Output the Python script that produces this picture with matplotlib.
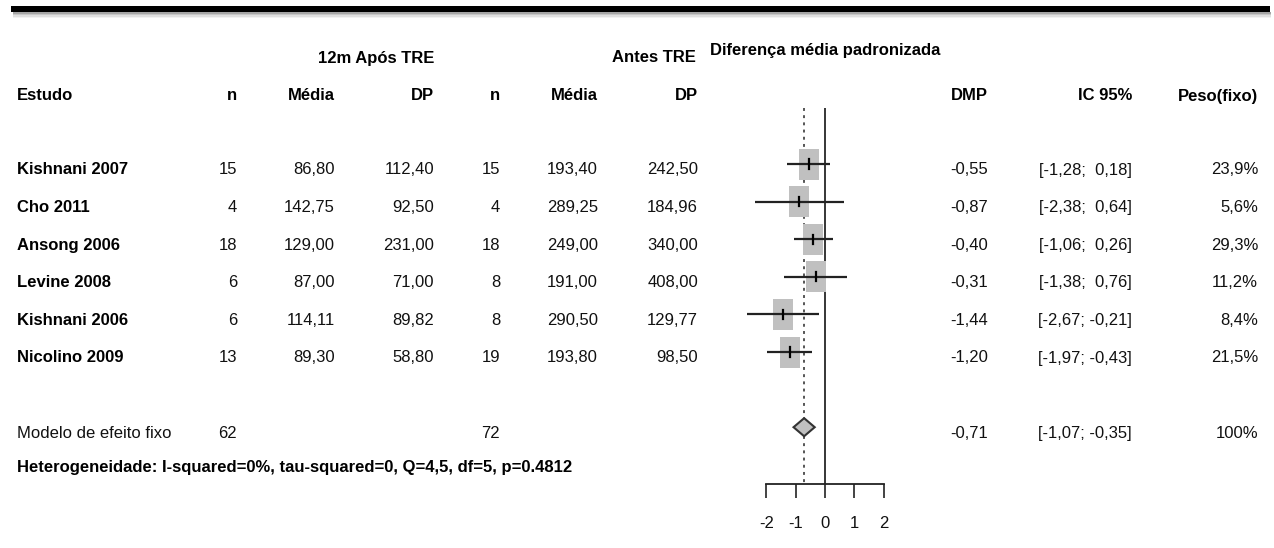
import numpy as np
import matplotlib
matplotlib.use("Agg")
import matplotlib.pyplot as plt
from matplotlib.patches import Rectangle, Polygon
from matplotlib import font_manager

# ---------------------------------------------------------------------------#
# --------------------------------- Data ----------------------------------- #

studies = ["Kishnani 2007", "Cho 2011", "Ansong 2006", "Levine 2008", "Kishnani 2006", "Nicolino 2009"]
nAfter = [15, 4, 18, 6, 6, 13]
meanAfter = [86.80, 142.75, 129.00, 87.00, 114.11, 89.30]
sdAfter = [112.40, 92.50, 231.00, 71.00, 89.82, 58.80]
nBefore = [15, 4, 18, 8, 8, 19]
meanBefore = [193.40, 289.25, 249.00, 191.00, 290.50, 193.80]
sdBefore = [242.50, 184.96, 340.00, 408.00, 129.77, 98.50]
smd = [-0.55, -0.87, -0.40, -0.31, -1.44, -1.20]
ciLow = [-1.28, -2.38, -1.06, -1.38, -2.67, -1.97]
ciHigh = [0.18, 0.64, 0.26, 0.76, -0.21, -0.43]
weightFixed = [23.9, 5.6, 29.3, 11.2, 8.4, 21.5]

pooledLabel = "Modelo de efeito fixo"
pooledNAfter = 62
pooledNBefore = 72
pooledSmd = -0.71
pooledLow = -1.07
pooledHigh = -0.35
pooledWeight = "100%"
hetText = "Heterogeneidade: I-squared=0%, tau-squared=0, Q=4,5, df=5, p=0.4812"
xTicks = [-2, -1, 0, 1, 2]

# ---------------------------------------------------------------------------#
# -------------------------------- Helpers --------------------------------- #

def fmt(value, digits=2):
    return f"{value:.{digits}f}".replace(".", ",")

def fmtCI(lo, hi):
    hiStr = fmt(hi) if hi < 0 else " " + fmt(hi)
    return "[" + fmt(lo) + "; " + hiStr + "]"

# pick a condensed font if it exists
try:
    font_manager.findfont("Liberation Sans Narrow", fallback_to_default=False)
    family = "Liberation Sans Narrow"
    fs = 14.5
except Exception:
    family = "Liberation Sans"
    fs = 12
plt.rcParams["font.family"] = [family, "DejaVu Sans"]
plt.rcParams["axes.unicode_minus"] = False

W, H = 1274, 548
fig = plt.figure(figsize=(W / 100, H / 100), dpi=100)
bg = fig.add_axes([0, 0, 1, 1])
bg.set_xlim(0, W)
bg.set_ylim(H, 0)
bg.axis("off")

# top rule with a soft shadow
for k, a in enumerate([0.35, 0.22, 0.12, 0.05]):
    bg.add_patch(Rectangle((13, 12 + k * 1.5), 1258, 1.5, color="black", alpha=a, lw=0))
bg.add_patch(Rectangle((11, 6), 1259, 6, color="black", lw=0))

rowTop = 164
rowStep = 37.6
def rowY(i):
    return rowTop + rowStep * i

capHalf = 7.5
bold = dict(fontsize=fs, fontweight="bold", color="black")
norm = dict(fontsize=fs, color="#111111")

# column right edges (pixels)
colN1, colM1, colS1 = 237, 335, 434
colN2, colM2, colS2 = 500, 598, 698
colSmd, colCI, colW = 988, 1132, 1258
colStudy = 17

# headers
bg.text(colS1, 55 + capHalf, "12m Após TRE", ha="right", va="baseline", **bold)
bg.text(colS2 - 2, 55 + capHalf, "Antes TRE", ha="right", va="baseline", **bold)
bg.text(710, 47 + capHalf, "Diferença média padronizada", ha="left", va="baseline", **bold)
headY = 93 + capHalf
bg.text(colStudy, headY, "Estudo", ha="left", va="baseline", **bold)
for x, lab in [(colN1, "n"), (colM1, "Média"), (colS1, "DP"), (colN2, "n"), (colM2, "Média"),
               (colS2, "DP"), (colSmd, "DMP"), (colCI, "IC 95%"), (colW, "Peso(fixo)")]:
    bg.text(x, headY, lab, ha="right", va="baseline", **bold)

# study rows
for i, name in enumerate(studies):
    y = rowY(i) + 3 + capHalf
    bg.text(colStudy, y, name, ha="left", va="baseline", **bold)
    bg.text(colN1, y, str(nAfter[i]), ha="right", va="baseline", **norm)
    bg.text(colM1, y, fmt(meanAfter[i]), ha="right", va="baseline", **norm)
    bg.text(colS1, y, fmt(sdAfter[i]), ha="right", va="baseline", **norm)
    bg.text(colN2, y, str(nBefore[i]), ha="right", va="baseline", **norm)
    bg.text(colM2, y, fmt(meanBefore[i]), ha="right", va="baseline", **norm)
    bg.text(colS2, y, fmt(sdBefore[i]), ha="right", va="baseline", **norm)
    bg.text(colSmd, y, fmt(smd[i]), ha="right", va="baseline", **norm)
    bg.text(colCI, y, fmtCI(ciLow[i], ciHigh[i]), ha="right", va="baseline", **norm)
    bg.text(colW, y, fmt(weightFixed[i], 1) + "%", ha="right", va="baseline", **norm)

# pooled row
py = rowY(7) + 3 + capHalf
bg.text(colStudy, py, pooledLabel, ha="left", va="baseline", **norm)
bg.text(colN1, py, str(pooledNAfter), ha="right", va="baseline", **norm)
bg.text(colN2, py, str(pooledNBefore), ha="right", va="baseline", **norm)
bg.text(colSmd, py, fmt(pooledSmd), ha="right", va="baseline", **norm)
bg.text(colCI, py, fmtCI(pooledLow, pooledHigh), ha="right", va="baseline", **norm)
bg.text(colW, py, pooledWeight, ha="right", va="baseline", **norm)
bg.text(colStudy, rowY(8) + 0 + capHalf, hetText, ha="left", va="baseline", **bold)

# ---------------------------------------------------------------------------#
# ------------------------------ Forest panel ------------------------------ #

unitPx = 29.4
zeroPx = 825
xl, xr = -3, 3
yTopRow, yBotRow = -1.5, 8.5
topPx = rowY(yTopRow)
botPx = rowY(yBotRow)
ax = fig.add_axes([(zeroPx + xl * unitPx) / W, 1 - botPx / H,
                   (xr - xl) * unitPx / W, (botPx - topPx) / H])
ax.set_xlim(xl, xr)
ax.set_ylim(yBotRow, yTopRow)
ax.patch.set_alpha(0)
for s in ["top", "left", "right"]:
    ax.spines[s].set_visible(False)
ax.spines["bottom"].set_bounds(-2, 2)
ax.spines["bottom"].set_linewidth(1.3)
ax.spines["bottom"].set_color("#222222")
ax.set_yticks([])
ax.set_xticks(xTicks)
ax.set_xticklabels([str(t) for t in xTicks])
ax.tick_params(axis="x", direction="out", length=10, width=1.2, color="#222222",
               labelsize=fs, pad=13, labelcolor="#111111")

ax.axvline(0, color="black", lw=1.1, zorder=1)
diaHalf = 0.24
ax.plot([pooledSmd, pooledSmd], [yTopRow, 7 - diaHalf], color="#555555", lw=1.4,
        ls=(0, (1.5, 2.2)), zorder=1)
ax.plot([pooledSmd, pooledSmd], [7 + diaHalf, yBotRow], color="#555555", lw=1.4,
        ls=(0, (1.5, 2.2)), zorder=1)

boxW = 20 / unitPx
boxH = 31 / rowStep
for i in range(len(studies)):
    ax.add_patch(Rectangle((smd[i] - boxW / 2, i - boxH / 2), boxW, boxH,
                           facecolor="#c0c0c0", edgecolor="none", zorder=2))
    ax.plot([ciLow[i], ciHigh[i]], [i, i], color="#222222", lw=1.6, zorder=3,
            solid_capstyle="butt")
    ax.plot([smd[i], smd[i]], [i - 0.12, i + 0.12], color="black", lw=1.6, zorder=4)

ax.add_patch(Polygon([(pooledLow, 7), (pooledSmd, 7 - diaHalf), (pooledHigh, 7),
                      (pooledSmd, 7 + diaHalf)], closed=True, facecolor="#c0c0c0",
                     edgecolor="#333333", lw=1.5, zorder=3))

fig.savefig("out.png", dpi=100)
